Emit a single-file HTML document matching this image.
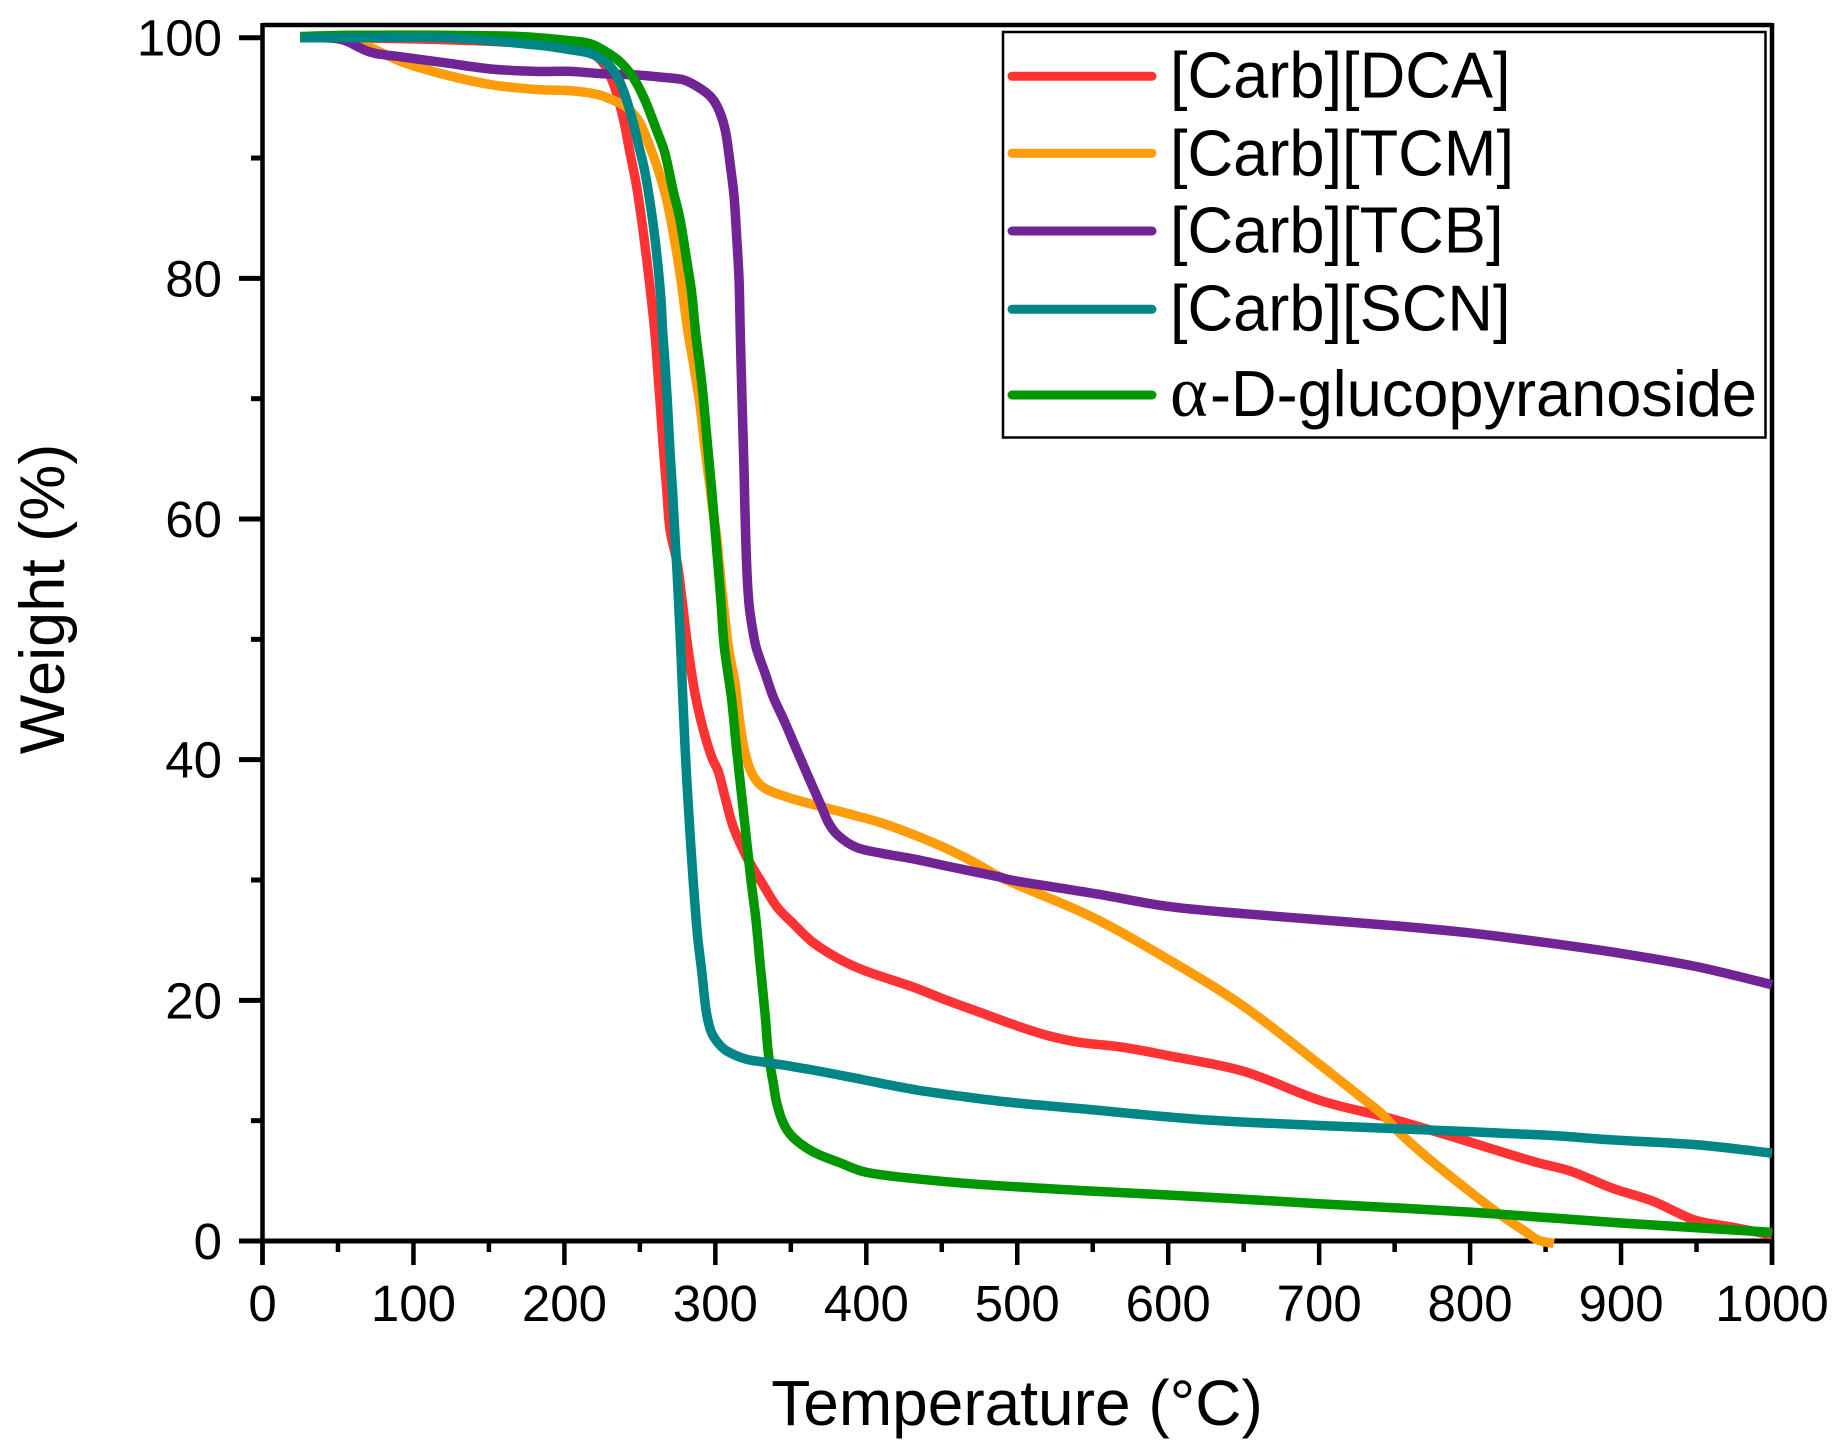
<!DOCTYPE html>
<html lang="en">
<head>
<meta charset="utf-8">
<title>TGA weight loss chart</title>
<style>
html,body{margin:0;padding:0;background:#fff;}
svg{display:block;}
text{font-family:"Liberation Sans",Arial,sans-serif;fill:#000;}
</style>
</head>
<body>
<svg id="chart" xmlns="http://www.w3.org/2000/svg" width="1846" height="1449" viewBox="0 0 1846 1449">
<rect x="0" y="0" width="1846" height="1449" fill="#fff"/>
<g id="axes"></g>
<g id="series"></g>
<g id="legend"></g>
<text id="ytitle" x="0" y="0" font-size="63" text-anchor="middle" transform="translate(64,599) rotate(-90)">Weight (%)</text>
<text id="xtitle" x="1017" y="1425" font-size="64" text-anchor="middle">Temperature (°C)</text>
</svg>
<script>
const xMajorTicks = [0,100,200,300,400,500,600,700,800,900,1000];
const xMinorTicks = [50,150,250,350,450,550,650,750,850,950];
const yMajorTicks = [0,20,40,60,80,100];
const yMinorTicks = [10,30,50,70,90];

const dcaT = [25,50,100,150,190,215,225,232.4,238.8,243.5,247.9,252.3,256.7,260,261.8,263.8,265.5,267.8,270,274.8,277.7,281.7,286.5,292,297.6,302,306.4,311.9,320.8,330.7,340.6,351.4,364.8,382.6,400.3,431.1,453.3,475.3,497.2,519.4,541.6,570,600,650,700.2,743.9,784.8,839.4,866.7,894,921.3,948.6,975.9,1000];
const dcaW = [100,100,99.9,99.7,99.4,98.8,98,96.2,93.4,90.4,87.6,83.8,79.3,75.4,72.4,69,66,62.4,59.1,56.3,53.5,49.4,45.5,42.5,40.2,39,36.9,34.4,31.9,29.8,27.8,26.4,24.8,23.4,22.4,21.1,20,19,18,17.1,16.5,16.1,15.4,14.1,11.7,10.3,8.8,6.7,5.8,4.4,3.3,1.75,1.1,0.5];

const tcmT = [25,50,62.6,92.3,121.8,151.4,181,203.7,221.4,232.4,241.3,250.1,256.7,262.2,267.8,272.1,276.6,281.7,285.4,290,292.7,296.7,298.9,300.9,303,305.3,308.8,313,316.3,319.6,324.1,331.8,347.3,367.1,391.4,413.5,444.4,466.5,486.4,500,550,600,650,700,730.3,741.2,754.9,773.9,795.8,817.6,836.7,845,855.5];
const tcmW = [100,100,99.7,98,96.9,96.1,95.7,95.6,95.3,94.8,94.2,92.9,90.9,89,86.5,83.8,80.4,75.7,73,69.3,66.3,62.4,60.2,58.5,55.8,53,49.2,46.4,43,40.6,38.9,37.7,36.9,36.2,35.4,34.6,33.1,31.8,30.4,29.6,26.9,23.4,19.5,14.7,11.7,10.6,8.8,6.7,4.5,2.4,0.77,0.08,-0.2];

const tcbT = [25,40,53.8,71.5,92.3,121.8,151.4,181,203.7,225.8,247.9,265.5,278.8,289.8,297.6,303,306.9,309.7,312.4,314.1,315.7,316.5,317.2,318.1,319,319.6,320.3,321.2,322.5,324.7,327.3,332.9,338.4,346.1,353.9,361.5,369.3,374.8,381.4,393.6,411,433.4,455.5,486.4,500,550,600,650,700,750,800,850,900,950,1000];
const tcbW = [100,100,99.8,98.8,98.4,97.9,97.4,97.2,97.2,97,96.9,96.7,96.5,95.8,95,93.8,92.1,89.6,86.8,83.5,79.9,75.5,72.1,68,64.1,60.7,57.7,54.9,52.7,50.8,49.2,47.2,45.2,43.1,40.8,38.6,36.4,34.8,33.7,32.7,32.2,31.7,31.1,30.3,29.9,28.9,27.8,27.2,26.7,26.2,25.6,24.8,23.9,22.8,21.3];

const scnT = [25.6,60,121.7,181,203.7,217,225.8,232.4,238.8,244.6,248.9,253.4,257.8,261.1,263.8,265.2,266.6,268.4,270,271.7,273.3,274.8,276.1,277.1,278.8,280.6,282.8,285.4,288.1,290.9,293.8,296.9,300.9,307.5,320.8,336.2,364.9,398,431.1,464.3,497.2,541.6,621,700,776.8,850,894,950,1000];
const scnW = [100,100,100,99.4,99,98.7,98.1,97.3,95.7,93.4,91.2,88.8,85.4,82.1,78.5,75.4,73,69.3,65.5,62.2,58.5,55.2,51.9,49.2,44.1,39.4,34.7,29.8,25.5,22.5,19.2,17.5,16.6,15.8,15.1,14.8,14.2,13.4,12.6,12,11.5,11,10.1,9.6,9.2,8.8,8.4,8,7.3];

const glcT = [25,60,120,170,203.7,217,228,236.8,245.5,253.4,261.1,266.6,272,276.6,281,284.3,287,289.4,292,294.7,297.6,299.8,302,303.8,305.9,310.8,314.1,318.5,323.4,326.9,329.6,332.9,335.1,338.4,340.6,345,351.6,364.9,382.6,400.3,430.9,475.3,541.6,621,700,800,900,1000];
const glcW = [100.1,100.2,100.2,100.1,99.75,99.5,98.8,98,96.7,94.8,92.3,90.4,87.3,84.9,81.5,78.8,75.4,73,70.1,66.3,62.4,59.1,55.8,53,49.4,45,40.8,35.8,30.2,26.7,23.1,18.9,15.6,13.1,11.5,9.8,8.6,7.4,6.5,5.7,5.2,4.7,4.2,3.68,3.1,2.4,1.5,0.72];

const seriesNames = ['[Carb][DCA]','[Carb][TCM]','[Carb][TCB]','[Carb][SCN]','-D-glucopyranoside'];

const NS = 'http://www.w3.org/2000/svg';
function sx(t){ return 262.5 + t * 1.5095; }
function sy(w){ return 1241 - w * 12.033; }

function mk(parent, tag, attrs, txt){
  const el = document.createElementNS(NS, tag);
  for (const k in attrs) el.setAttribute(k, attrs[k]);
  if (txt !== undefined) el.textContent = txt;
  parent.appendChild(el);
  return el;
}

const axes = document.getElementById('axes');
const frame = [
  ['x1',262.5,'y1',25,'x2',1772,'y2',25,'top-frame',4.5],
  ['x1',262.5,'y1',23,'x2',262.5,'y2',1265,'y-axis-line',4.5],
  ['x1',1772,'y1',23,'x2',1772,'y2',1265,'right-frame',4.5],
  ['x1',239,'y1',1241,'x2',1774,'y2',1241,'x-axis-line',5]
];
frame.forEach(function(f){
  const l = mk(axes,'line',{x1:f[1],y1:f[3],x2:f[5],y2:f[7],stroke:'#000','stroke-width':f[9]});
  
  
});

xMajorTicks.forEach(function(t){
  const l = mk(axes,'line',{x1:sx(t),y1:1241,x2:sx(t),y2:1265,stroke:'#000','stroke-width':4.5});
  
  
  const lb = mk(axes,'text',{x:sx(t),y:1321,'font-size':51,'text-anchor':'middle'},String(t));
  
  
});
xMinorTicks.forEach(function(t){
  const l = mk(axes,'line',{x1:sx(t),y1:1241,x2:sx(t),y2:1252,stroke:'#000','stroke-width':4.5});
  
  
});
yMajorTicks.forEach(function(w){
  const l = mk(axes,'line',{x1:239,y1:sy(w),x2:262,y2:sy(w),stroke:'#000','stroke-width':5});
  
  
  const lb = mk(axes,'text',{x:222,y:sy(w)+18,'font-size':51,'text-anchor':'end'},String(w));
  
  
});
yMinorTicks.forEach(function(w){
  const l = mk(axes,'line',{x1:251,y1:sy(w),x2:262,y2:sy(w),stroke:'#000','stroke-width':5});
  
  
});

function drawSeries(ts, ws, color, name){
  const g = document.getElementById('series');
  const px = ts.map(sx);
  const py = ws.map(sy);
  const n = px.length;
  let d = 'M' + px[0].toFixed(2) + ' ' + py[0].toFixed(2);
  for (let i = 0; i < n - 1; i++){
    const a = Math.max(i - 1, 0);
    const b = Math.min(i + 2, n - 1);
    const c1x = px[i] + (px[i + 1] - px[a]) / 6;
    const c1y = py[i] + (py[i + 1] - py[a]) / 6;
    const c2x = px[i + 1] - (px[b] - px[i]) / 6;
    const c2y = py[i + 1] - (py[b] - py[i]) / 6;
    d += 'C' + c1x.toFixed(2) + ' ' + c1y.toFixed(2) + ' ' + c2x.toFixed(2) + ' ' + c2y.toFixed(2) + ' ' + px[i + 1].toFixed(2) + ' ' + py[i + 1].toFixed(2);
  }
  const p = mk(g,'path',{d:d,fill:'none',stroke:color,'stroke-width':9.5,'stroke-linejoin':'round','stroke-linecap':'butt'});
  
  
}
drawSeries(dcaT, dcaW, '#ff3333', 'series-carb-dca');
drawSeries(tcmT, tcmW, '#ff9c0a', 'series-carb-tcm');
drawSeries(tcbT, tcbW, '#702496', 'series-carb-tcb');
drawSeries(glcT, glcW, '#009600', 'series-glucopyranoside');
drawSeries(scnT, scnW, '#008686', 'series-carb-scn');

const legend = document.getElementById('legend');
const box = mk(legend,'rect',{x:1003,y:32,width:762.5,height:405.5,fill:'#fff',stroke:'#000','stroke-width':2.5});



function legendEntry(name, color, lineY, baseY, label){
  const l = mk(legend,'line',{x1:1012,y1:lineY,x2:1152,y2:lineY,stroke:color,'stroke-width':9,'stroke-linecap':'round'});
  
  
  const t = mk(legend,'text',{x:1170,y:baseY,'font-size':65,lengthAdjust:'spacingAndGlyphs'},label);
  
  
  t.setAttribute('textLength', (t.getComputedTextLength() * 0.972).toFixed(1));
  return t;
}
legendEntry('legend-dca', '#ff3333', 76.3, 97.5, seriesNames[0]);
legendEntry('legend-tcm', '#ff9c0a', 153.3, 175.5, seriesNames[1]);
legendEntry('legend-tcb', '#702496', 231, 252.5, seriesNames[2]);
legendEntry('legend-scn', '#008686', 309.3, 330.5, seriesNames[3]);

const glcLine = mk(legend,'line',{x1:1012,y1:395,x2:1152,y2:395,stroke:'#009600','stroke-width':9,'stroke-linecap':'round'});


const alpha = mk(legend,'text',{x:1170,y:416,'font-size':72,style:'font-family:"Liberation Serif","DejaVu Serif",serif'},'α');


const glcText = mk(legend,'text',{x:1210,y:416,'font-size':65,textLength:547,lengthAdjust:'spacingAndGlyphs'},seriesNames[4]);


</script>
</body>
</html>
